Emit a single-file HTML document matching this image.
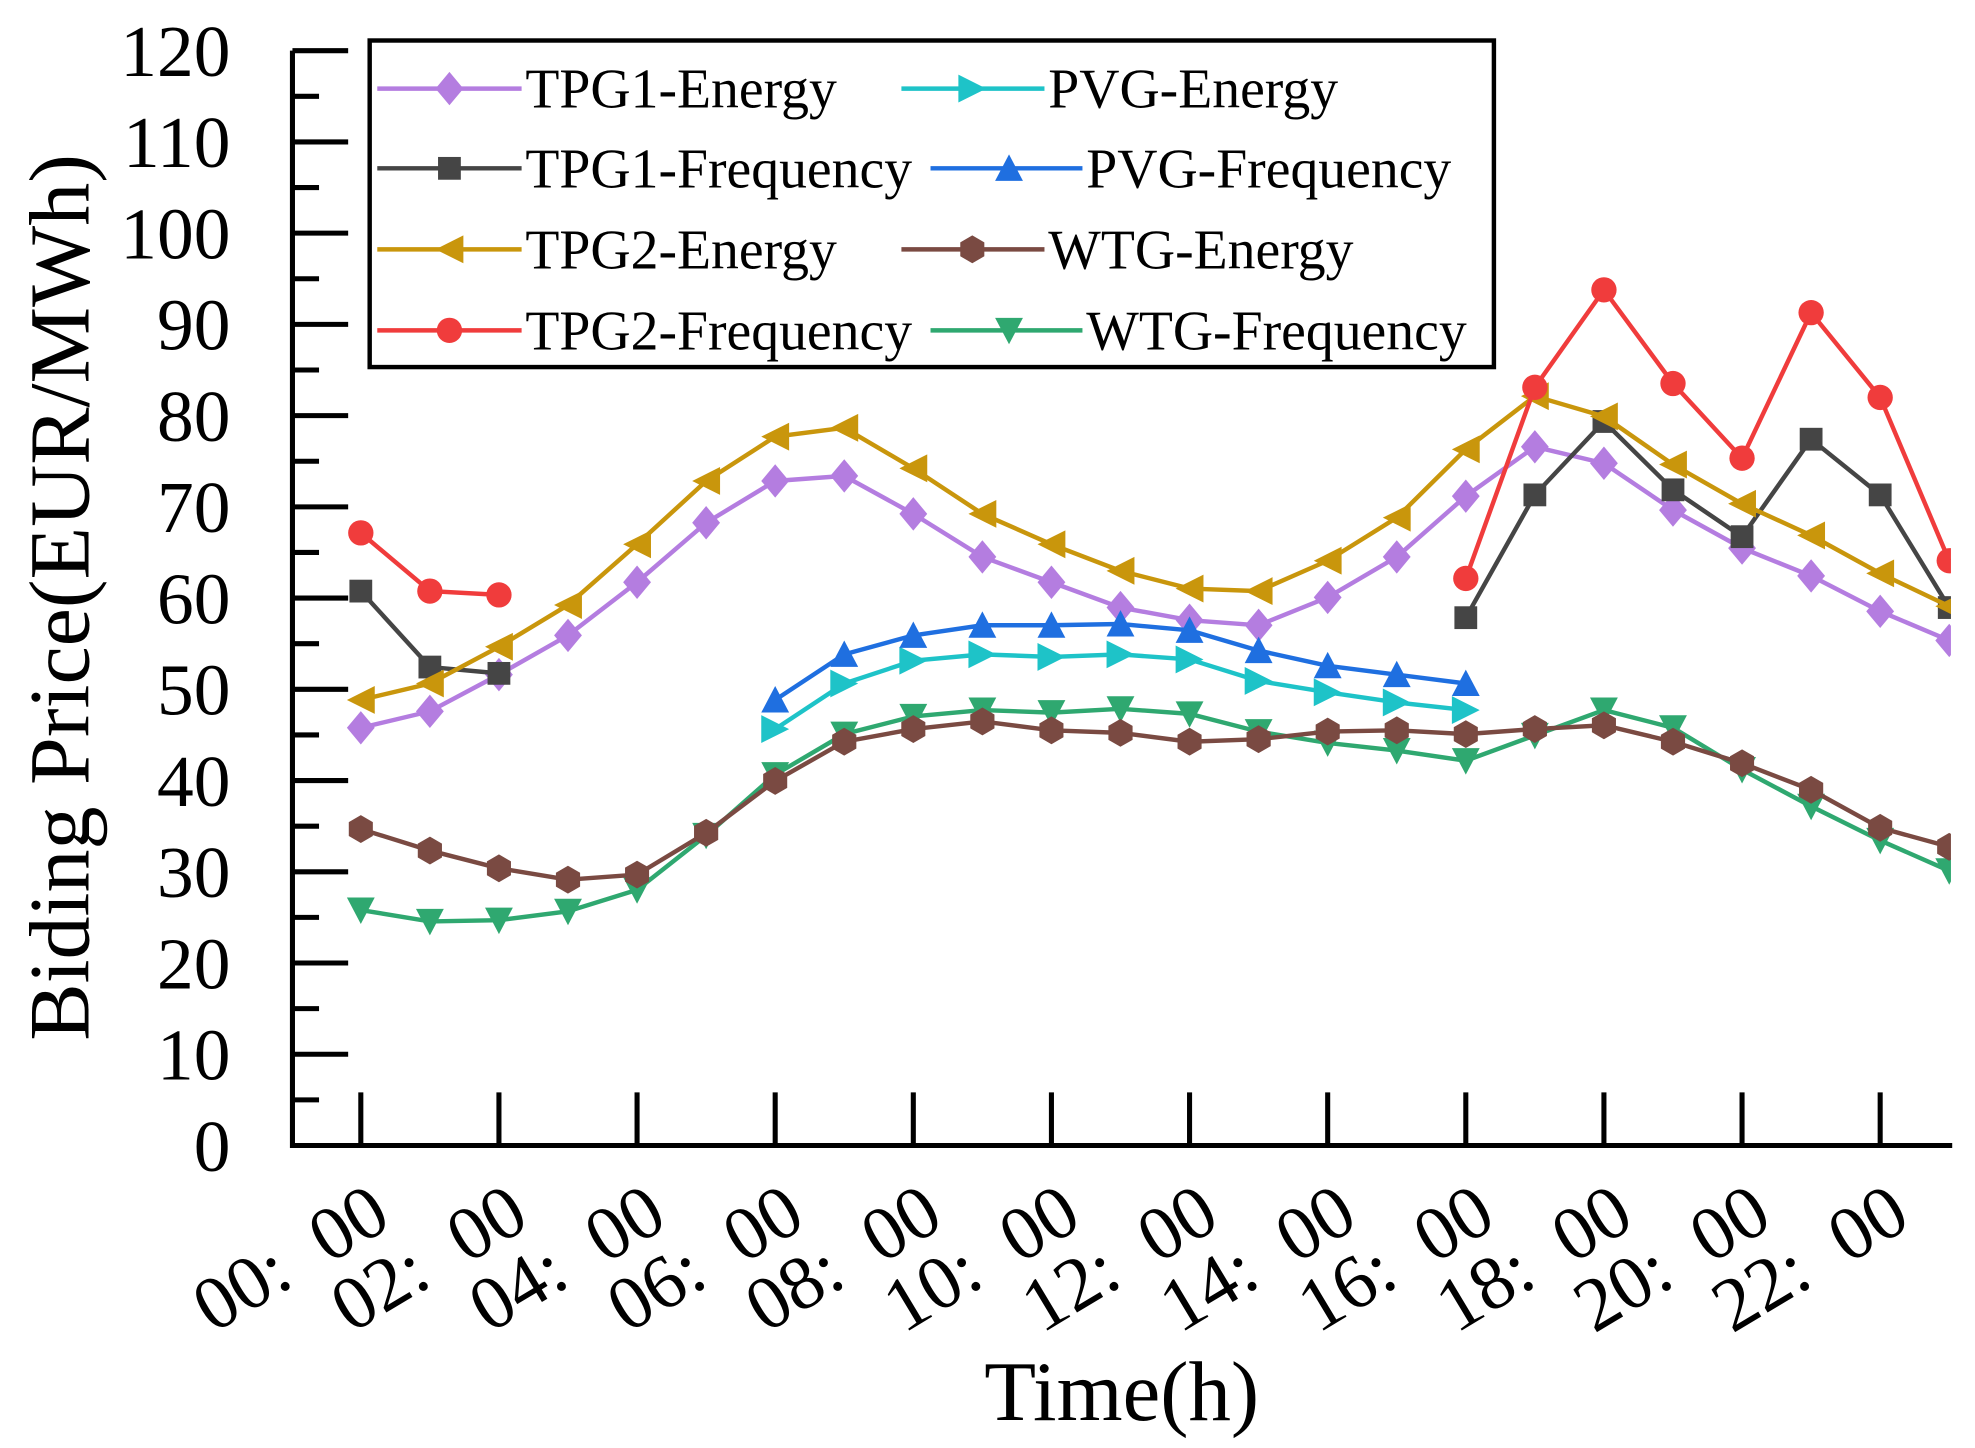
<!DOCTYPE html>
<html><head><meta charset="utf-8"><style>html,body{margin:0;padding:0;background:#fff}svg{display:block}</style></head>
<body>
<svg id="s" width="1975" height="1448" viewBox="0 0 1560 1144" preserveAspectRatio="none" xmlns="http://www.w3.org/2000/svg" font-family="'Liberation Serif',serif">
<defs><clipPath id="c"><rect x="231" y="20" width="1310" height="885"/></clipPath></defs>
<g id="axes" stroke="#000" stroke-width="4" fill="none"></g>
<g id="labels" font-size="58" fill="#000"></g>
<g id="series" clip-path="url(#c)"></g>
<text x="70" y="472" font-size="68" text-anchor="middle" transform="rotate(-90 70 472)">Biding Price(EUR/MWh)</text>
<text x="886" y="1122" font-size="67" text-anchor="middle">Time(h)</text>
<rect x="292" y="32" width="888" height="258" fill="#fff" stroke="#000" stroke-width="3.5"/>
<g id="legend" font-size="44"></g>
</svg>
<script>
const NS="http://www.w3.org/2000/svg";
function el(p,t,a,txt){const e=document.createElementNS(NS,t);for(const k in a)e.setAttribute(k,a[k]);if(txt)e.textContent=txt;p.appendChild(e);return e;}
const ax=document.getElementById('axes'),lb=document.getElementById('labels'),se=document.getElementById('series'),lg=document.getElementById('legend');
el(ax,'path',{d:'M231 40 V905 H1542'});
for(let v=0;v<=120;v+=5){const y=905-v*7.208;const maj=v%10==0;el(ax,'line',{x1:231,x2:maj?275:252,y1:y,y2:y});
 if(maj)el(lb,'text',{x:182,y:y+20,'text-anchor':'end'},String(v));}
const X=h=>285+h*54.55;
for(let h=0;h<=22;h+=2){const x=X(h);el(ax,'line',{x1:x,x2:x,y1:905,y2:863});
 const lbl=(h<10?'0':'')+h+':\u00a0 00';const tx=x+26,ty=968;el(lb,'text',{x:tx,y:ty,'text-anchor':'end','font-size':60,transform:`rotate(-31 ${tx} ${ty})`},lbl);}
function marker(g,type,x,y,c,s){s=s||11;let d;
 switch(type){
 case 'diamond':d=`M${x} ${y-s*1.2}L${x+s} ${y}L${x} ${y+s*1.2}L${x-s} ${y}Z`;break;
 case 'square':el(g,'rect',{x:x-9,y:y-9,width:18,height:18,fill:c});return;
 case 'circle':el(g,'circle',{cx:x,cy:y,r:10,fill:c});return;
 case 'left':d=`M${x-s} ${y}L${x+s} ${y-s}L${x+s} ${y+s}Z`;break;
 case 'right':d=`M${x+s} ${y}L${x-s} ${y-s}L${x-s} ${y+s}Z`;break;
 case 'up':d=`M${x} ${y-s}L${x+s} ${y+s*0.9}L${x-s} ${y+s*0.9}Z`;break;
 case 'down':d=`M${x} ${y+s}L${x+s} ${y-s*0.9}L${x-s} ${y-s*0.9}Z`;break;
 case 'hex':{let p=[];for(let i=0;i<6;i++){const a=Math.PI/3*i+Math.PI/6;p.push((x+s*Math.cos(a)).toFixed(1)+' '+(y+s*Math.sin(a)).toFixed(1));}d='M'+p.join('L')+'Z';break;}
 }
 el(g,'path',{d,fill:c});}
const S=[
 {n:'TPG1-Energy',c:'#b47de0',m:'diamond',st:0,y:[575,562,533,502,460,413,380,376,406,440,460,480,490,494,472,440,392,353,366,403,433,455,483,506]},
 {n:'TPG1-Frequency',c:'#454545',m:'square',st:0,y:[467,527,532]},
 {n:'TPG1-FrequencyB',c:'#454545',m:'square',st:16,y:[488,391,333,387,424,347,391,480]},
 {n:'TPG2-Energy',c:'#c9960c',m:'left',st:0,y:[553,540,511,478,430,380,345,338,370,406,430,451,465,467,443,409,355,313,329,367,398,423,453,479]},
 {n:'TPG2-Frequency',c:'#f03c3c',m:'circle',st:0,y:[421,467,470]},
 {n:'TPG2-FrequencyB',c:'#f03c3c',m:'circle',st:16,y:[457,306,229,303,362,247,314,443]},
 {n:'PVG-Energy',c:'#1ec3c8',m:'right',st:6,y:[576,540,522,517,519,517,521,538,547,555,561]},
 {n:'PVG-Frequency',c:'#1f6fe0',m:'up',st:6,y:[553,517,502,494,494,493,498,514,526,533,540]},
 {n:'WTG-Frequency',c:'#2fa870',m:'down',st:0,y:[719,728,727,720,703,660,612,580,566,561,563,560,564,578,587,593,601,581,561,575,608,637,664,688]},
 {n:'WTG-Energy',c:'#7a4a42',m:'hex',st:0,y:[655,672,686,695,691,658,617,586,576,570,577,579,586,584,578,577,580,576,573,586,603,624,654,669]},
];
for(const s of S){const pts=s.y.map((y,i)=>X(s.st+i).toFixed(1)+','+y);
 el(se,'polyline',{points:pts.join(' '),fill:'none',stroke:s.c,'stroke-width':3.5});
 s.y.forEach((y,i)=>marker(se,s.m,X(s.st+i),y,s.c));}
const L=[
 ['TPG1-Energy','#b47de0','diamond',298,412,355,415,70],
 ['TPG1-Frequency','#454545','square',298,412,355,415,133],
 ['TPG2-Energy','#c9960c','left',298,412,355,415,197],
 ['TPG2-Frequency','#f03c3c','circle',298,412,355,415,261],
 ['PVG-Energy','#1ec3c8','right',712,825,768,828,70],
 ['PVG-Frequency','#1f6fe0','up',735,855,797,858,133],
 ['WTG-Energy','#7a4a42','hex',712,825,768,828,197],
 ['WTG-Frequency','#2fa870','down',735,855,797,858,261],
];
for(const [n,c,m,x1,x2,mx,tx,y] of L){el(lg,'line',{x1,x2,y1:y,y2:y,stroke:c,'stroke-width':3.5});marker(lg,m,mx,y,c);
 el(lg,'text',{x:tx,y:y+15,fill:'#000'},n);}
</script>
</body></html>
